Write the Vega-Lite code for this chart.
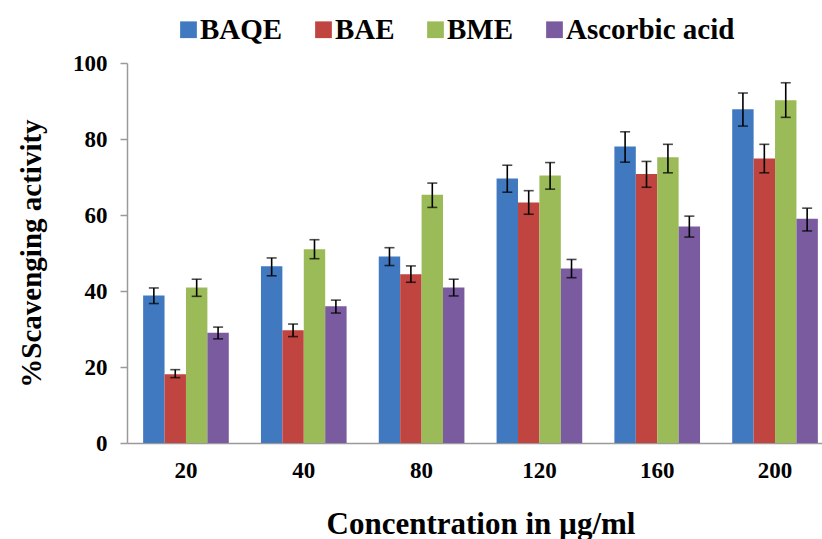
{
  "$schema": "https://vega.github.io/schema/vega-lite/v6.json",
  "width": 695,
  "height": 380,
  "autosize": "none",
  "padding": {"left": 127, "top": 63, "right": 0, "bottom": 96},
  "background": "white",
  "config": {
    "font": "Liberation Serif",
    "view": {"stroke": null}
  },
  "data": {
    "values": [
      {"conc": "20", "series": "BAQE", "value": 38.8, "lo": 36.7, "hi": 40.8},
      {"conc": "20", "series": "BAE", "value": 18.1, "lo": 17.2, "hi": 19.3},
      {"conc": "20", "series": "BME", "value": 40.9, "lo": 38.6, "hi": 43.1},
      {"conc": "20", "series": "Ascorbic acid", "value": 29.0, "lo": 27.4, "hi": 30.5},
      {"conc": "40", "series": "BAQE", "value": 46.5, "lo": 44.0, "hi": 48.7},
      {"conc": "40", "series": "BAE", "value": 29.7, "lo": 28.0, "hi": 31.3},
      {"conc": "40", "series": "BME", "value": 51.0, "lo": 48.5, "hi": 53.5},
      {"conc": "40", "series": "Ascorbic acid", "value": 36.0, "lo": 34.2, "hi": 37.6},
      {"conc": "80", "series": "BAQE", "value": 49.1, "lo": 46.7, "hi": 51.4},
      {"conc": "80", "series": "BAE", "value": 44.4, "lo": 42.3, "hi": 46.6},
      {"conc": "80", "series": "BME", "value": 65.3, "lo": 62.0, "hi": 68.4},
      {"conc": "80", "series": "Ascorbic acid", "value": 40.9, "lo": 38.7, "hi": 43.1},
      {"conc": "120", "series": "BAQE", "value": 69.6, "lo": 66.0, "hi": 73.1},
      {"conc": "120", "series": "BAE", "value": 63.3, "lo": 60.2, "hi": 66.4},
      {"conc": "120", "series": "BME", "value": 70.4, "lo": 66.8, "hi": 73.8},
      {"conc": "120", "series": "Ascorbic acid", "value": 45.9, "lo": 43.5, "hi": 48.3},
      {"conc": "160", "series": "BAQE", "value": 78.0, "lo": 73.9, "hi": 81.9},
      {"conc": "160", "series": "BAE", "value": 70.8, "lo": 67.3, "hi": 74.1},
      {"conc": "160", "series": "BME", "value": 75.2, "lo": 71.1, "hi": 78.6},
      {"conc": "160", "series": "Ascorbic acid", "value": 57.0, "lo": 54.2, "hi": 59.7},
      {"conc": "200", "series": "BAQE", "value": 87.8, "lo": 83.4, "hi": 92.1},
      {"conc": "200", "series": "BAE", "value": 74.9, "lo": 71.1, "hi": 78.6},
      {"conc": "200", "series": "BME", "value": 90.2, "lo": 85.7, "hi": 94.8},
      {"conc": "200", "series": "Ascorbic acid", "value": 59.0, "lo": 55.8, "hi": 61.8}
    ]
  },
  "encoding": {
    "x": {
      "field": "conc",
      "type": "nominal",
      "sort": ["20", "40", "80", "120", "160", "200"],
      "scale": {"paddingInner": 0.273, "paddingOuter": 0.137, "range": [0, 707]},
      "axis": {
        "title": "Concentration in µg/ml",
        "titleFont": "Liberation Serif",
        "titleFontSize": 31,
        "titleFontWeight": "bold",
        "titleColor": "black",
        "titlePadding": 27,
        "labelAngle": 0,
        "labelFont": "Liberation Serif",
        "labelFontSize": 23,
        "labelFontWeight": "bold",
        "labelColor": "black",
        "labelPadding": 16,
        "ticks": false,
        "domainColor": "#9a9a9a",
        "domainWidth": 1.5
      }
    },
    "xOffset": {
      "field": "series",
      "type": "nominal",
      "sort": ["BAQE", "BAE", "BME", "Ascorbic acid"],
      "scale": {"paddingInner": 0, "paddingOuter": 0}
    }
  },
  "layer": [
    {
      "mark": {"type": "bar"},
      "encoding": {
        "y": {
          "field": "value",
          "type": "quantitative",
          "scale": {"domain": [0, 100]},
          "axis": {
            "title": "%Scavenging activity",
            "titleFont": "Liberation Serif",
            "titleFontSize": 29,
            "titleFontWeight": "bold",
            "titleColor": "black",
            "titlePadding": 26,
            "values": [0, 20, 40, 60, 80, 100],
            "labelFont": "Liberation Serif",
            "labelFontSize": 23,
            "labelFontWeight": "bold",
            "labelColor": "black",
            "labelPadding": 13,
            "tickSize": 7,
            "tickColor": "#9a9a9a",
            "tickWidth": 1.5,
            "domainColor": "#9a9a9a",
            "domainWidth": 1.5,
            "grid": false
          }
        },
        "color": {
          "field": "series",
          "type": "nominal",
          "scale": {
            "domain": ["BAQE", "BAE", "BME", "Ascorbic acid"],
            "range": ["#4079C0", "#C0443F", "#9BBB59", "#7B5BA0"]
          },
          "legend": {
            "title": null,
            "orient": "none",
            "direction": "horizontal",
            "legendX": 47,
            "legendY": -48,
            "symbolType": "square",
            "symbolSize": 280,
            "symbolStrokeWidth": 0,
            "labelFont": "Liberation Serif",
            "labelFontSize": 29,
            "labelFontWeight": "bold",
            "labelColor": "black",
            "labelOffset": -3,
            "labelLimit": 400,
            "columnPadding": 26
          }
        }
      }
    },
    {
      "mark": {"type": "rule", "color": "black", "strokeWidth": 1.6},
      "encoding": {
        "y": {"field": "lo", "type": "quantitative"},
        "y2": {"field": "hi"}
      }
    },
    {
      "mark": {"type": "tick", "color": "black", "thickness": 1.6, "size": 10},
      "encoding": {
        "y": {"field": "lo", "type": "quantitative"}
      }
    },
    {
      "mark": {"type": "tick", "color": "black", "thickness": 1.6, "size": 10},
      "encoding": {
        "y": {"field": "hi", "type": "quantitative"}
      }
    }
  ]
}
